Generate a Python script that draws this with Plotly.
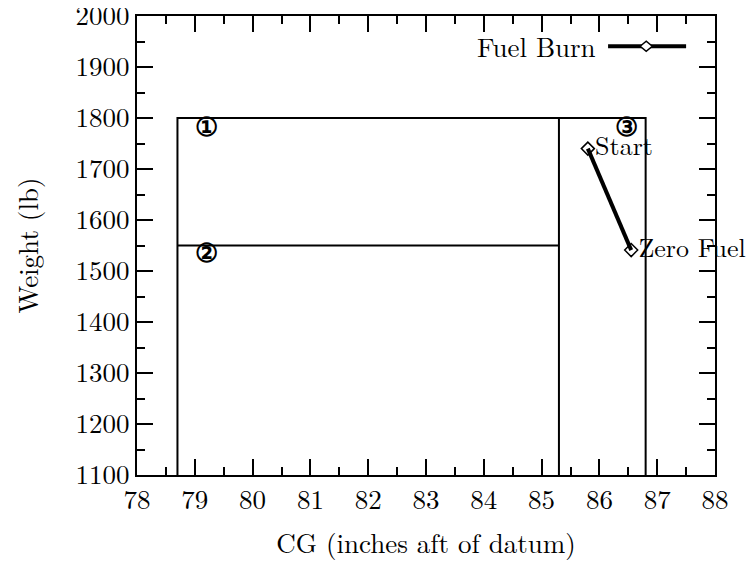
import plotly.graph_objects as go

# Envelope definition (CG inches, weight lb)
env_cg = [78.7, 85.3, 86.8]
env_w_low, env_w_mid, env_w_high = 1100, 1550, 1800

# Fuel burn points
burn_labels = ["Start", "Zero Fuel"]
burn_cg = [85.8, 86.55]
burn_w = [1740, 1541]

# Region labels
region_text = ["\u2460", "\u2461", "\u2462"]
region_cg = [79.2, 79.2, 86.47]
region_w = [1777, 1530, 1777]

FONT = "Latin Modern Roman, Liberation Serif, serif"
fs = 27

fig = go.Figure()

# envelope region 1/2 box
fig.add_trace(go.Scatter(
    x=[env_cg[0], env_cg[0], env_cg[1], env_cg[1]],
    y=[env_w_low, env_w_high, env_w_high, env_w_low],
    mode="lines", line=dict(color="black", width=2), showlegend=False, hoverinfo="skip"))
fig.add_trace(go.Scatter(
    x=[env_cg[0], env_cg[1]], y=[env_w_mid, env_w_mid],
    mode="lines", line=dict(color="black", width=2), showlegend=False, hoverinfo="skip"))
fig.add_trace(go.Scatter(
    x=[env_cg[1], env_cg[2], env_cg[2]],
    y=[env_w_high, env_w_high, env_w_low],
    mode="lines", line=dict(color="black", width=2), showlegend=False, hoverinfo="skip"))

# fuel burn
fig.add_trace(go.Scatter(
    x=burn_cg, y=burn_w, mode="lines+markers+text",
    text=burn_labels, textposition="middle right",
    textfont=dict(family=FONT, size=26, color="black"),
    line=dict(color="black", width=4),
    marker=dict(symbol="diamond-open", size=10, color="black", line=dict(width=1.5, color="black")),
    cliponaxis=False, showlegend=False, name="Fuel Burn"))

# region labels
fig.add_trace(go.Scatter(
    x=region_cg, y=region_w, mode="text", text=region_text,
    textfont=dict(family="DejaVu Serif", size=26, color="black", weight="bold"),
    cliponaxis=False, showlegend=False, hoverinfo="skip"))

# manual legend (text left of sample)
fig.add_annotation(xref="paper", yref="paper", x=0.797, y=0.934, text="Fuel Burn",
                   showarrow=False, xanchor="right", yanchor="middle",
                   font=dict(family=FONT, size=fs, color="black"))
fig.add_shape(type="line", xref="paper", yref="paper", x0=0.815, x1=0.95, y0=0.934, y1=0.934,
              line=dict(color="black", width=4))
fig.add_shape(type="path", xref="paper", yref="paper",
              path="M 0.8705 0.934 L 0.881 0.945 L 0.8915 0.934 L 0.881 0.923 Z",
              fillcolor="white", line=dict(color="black", width=1.5))

axis_common = dict(
    showgrid=False, zeroline=False, showline=True, linecolor="black", linewidth=2,
    mirror="ticks", ticks="inside", ticklen=16, tickwidth=1.5, tickcolor="black",
    tickfont=dict(family=FONT, size=fs, color="black"), automargin=False,
    ticklabeloverflow="allow",
)

fig.update_xaxes(range=[78, 88], dtick=1, tick0=78,
                 minor=dict(ticks="inside", ticklen=8, dtick=0.5, tickwidth=1.5, tickcolor="black"),
                 title=dict(text="CG (inches aft of datum)", font=dict(family=FONT, size=fs, color="black"), standoff=18),
                 **axis_common)
fig.update_yaxes(range=[1100, 2000], dtick=100, tick0=1100,
                 minor=dict(ticks="inside", ticklen=8, dtick=50, tickwidth=1.5, tickcolor="black"),
                 title=dict(text="Weight (lb)", font=dict(family=FONT, size=fs, color="black"), standoff=36),
                 **axis_common)

fig.update_layout(
    width=754, height=561,
    margin=dict(l=129, r=47, t=8, b=94),
    plot_bgcolor="white", paper_bgcolor="white",
    showlegend=False,
    font=dict(family=FONT, size=fs, color="black"),
)

fig.write_html("out.html")
